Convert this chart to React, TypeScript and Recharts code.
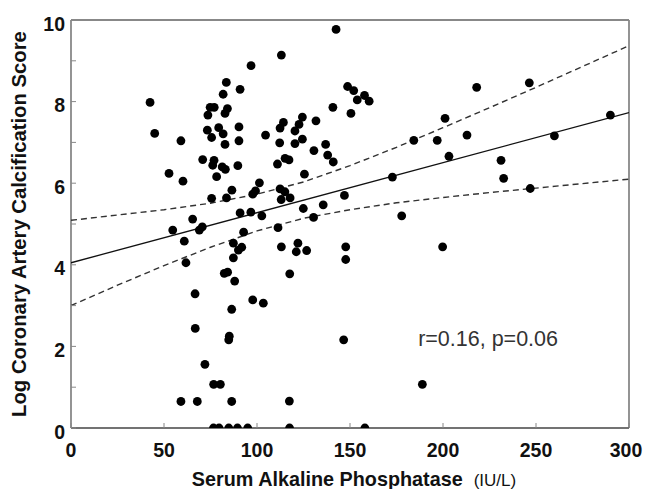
import React from 'react';
import { ScatterChart, Scatter, XAxis, YAxis, ReferenceLine, Label } from 'recharts';

// Serum alkaline phosphatase (IU/L)
const alpValues: number[] = [
  42.5, 45, 59.1, 52.7, 60.2, 65.4, 54.7, 60.9, 69, 70.6, 61.8, 66.7, 66.8, 59.1, 67.9,
  70.8, 72, 73.3, 73.6, 74.8, 77, 75.6, 76.9, 76.2, 78.3, 75.6, 76.7, 80.3, 76.6, 79.6,
  79.4, 81.8, 83.5, 84.1, 82.8, 81.8, 82.8, 81.3, 83, 83.6, 86.5, 82.4, 84.2, 84.8, 85.1,
  86.4, 86.4, 84.8, 87.3, 87.3, 88, 89.5, 90.9, 90.3, 90.3, 89.7, 90.9, 92.8, 91.8, 90,
  95, 96.8, 96.7, 97.7, 99.2, 101.3, 97.7,
  102.6, 103.4, 104.6, 113.1, 112.4, 114.2, 122.6, 124.4, 120.4, 112.2, 120.4, 124.4,
  115.1, 117.2, 111, 125.5, 112.4, 115, 117.8, 113, 124.9, 111.3, 113.1, 122, 121.1,
  126.7, 117.6, 117.4, 117.5,
  131.7, 130.6, 130.4, 135.6, 136.9, 138, 141, 140.8, 142.5, 148.7, 152, 157.8, 153.9,
  160.3, 150.5, 147, 147.7, 147.7, 146.6, 158,
  172.8, 177.8, 184.3, 188.9, 196.9, 199.8, 201.1, 203.2, 212.9, 218.1, 231.2, 232.6,
  246.4, 246.9, 259.9, 290,
];

// Log coronary artery calcification score
const cacValues: number[] = [
  7.98, 7.22, 7.04, 6.24, 6.05, 5.12, 4.85, 4.58, 4.85, 4.93, 4.05, 3.29, 2.44, 0.65, 0.65,
  6.58, 1.56, 7.3, 7.67, 7.86, 7.86, 7.12, 6.56, 6.44, 6.16, 5.63, 1.07, 1.07, 0, 0,
  7.36, 8.18, 8.47, 7.83, 7.71, 7.21, 6.95, 6.4, 6.34, 5.64, 5.83, 3.79, 3.82, 2.16, 2.25,
  2.91, 0.65, 0, 4.53, 4.17, 3.6, 0, 8.3, 7.38, 7.04, 6.43, 5.27, 4.8, 4.43, 4.36,
  0, 8.88, 5.29, 5.73, 5.81, 6.01, 3.14,
  5.2, 3.06, 7.18, 9.14, 7.35, 7.49, 7.44, 7.62, 7.28, 6.99, 6.97, 7.08,
  6.61, 6.57, 6.47, 6.22, 5.86, 5.79, 5.64, 5.6, 5.38, 4.91, 4.44, 4.53, 4.32,
  4.35, 3.78, 0.66, 0,
  7.53, 6.8, 5.16, 5.47, 6.95, 6.69, 6.52, 7.86, 9.77, 8.37, 8.27, 8.15, 8.04,
  8.01, 7.71, 5.7, 4.44, 4.13, 2.16, 0,
  6.15, 5.2, 7.05, 1.07, 7.05, 4.44, 7.59, 6.66, 7.18, 8.35, 6.56, 6.12,
  8.46, 5.87, 7.16, 7.67,
];

// Regression line end points
const fitX: number[] = [0, 300];
const fitY: number[] = [4.05, 7.73];

// Confidence band
const bandX: number[] = [0, 25, 50, 75, 100, 125, 150, 175, 200, 225, 250, 275, 300];
const bandUpper: number[] = [5.09, 5.22, 5.35, 5.51, 5.73, 6.03, 6.43, 6.88, 7.36, 7.85, 8.35, 8.86, 9.37];
const bandLower: number[] = [3.0, 3.5, 3.98, 4.43, 4.83, 5.14, 5.35, 5.52, 5.65, 5.77, 5.88, 5.99, 6.1];

const xTicks: number[] = [0, 50, 100, 150, 200, 250, 300];
const yTicks: number[] = [0, 1, 2, 3, 4, 5, 6, 7, 8, 9, 10];

const statText = 'r=0.16, p=0.06';

const points = alpValues.map((x, i) => ({ x, y: cacValues[i] }));
const fitData = fitX.map((x, i) => ({ x, y: fitY[i] }));
const upperData = bandX.map((x, i) => ({ x, y: bandUpper[i] }));
const lowerData = bandX.map((x, i) => ({ x, y: bandLower[i] }));

const FONT = '"Liberation Sans", Arial, sans-serif';

const Dot = (props: any) => {
  const { cx, cy } = props;
  if (cx == null || cy == null) return null;
  return <circle cx={cx} cy={cy} r={4.4} fill="#000" />;
};

const NoDot = () => null;

const YTick = (props: any) => {
  const { x, y, payload } = props;
  const axisX = x + 7;
  const v = payload.value;
  return (
    <g>
      <line x1={axisX} y1={y} x2={axisX + 5} y2={y} stroke="#888" strokeWidth={1} />
      {v % 2 === 0 ? (
        <text x={x + 1} y={y + 10.5} textAnchor="end" fontFamily={FONT} fontWeight="bold" fontSize={19.5} fill="#111">
          {v}
        </text>
      ) : null}
    </g>
  );
};

const XTick = (props: any) => {
  const { x, y, payload } = props;
  const shift = payload.value === 300 ? -3 : 0;
  return (
    <g>
      <line x1={x} y1={y} x2={x} y2={y - 5} stroke="#888" strokeWidth={1} />
      <text x={x + shift} y={y + 29} textAnchor="middle" fontFamily={FONT} fontWeight="bold" fontSize={19.5} fill="#111">
        {payload.value}
      </text>
    </g>
  );
};

const YTitle = (props: any) => {
  const vb = props.viewBox || {};
  const bx = (vb.x ?? 0) + 26;
  const cy = (vb.y ?? 0) + (vb.height ?? 0) / 2;
  return (
    <text
      x={bx}
      y={cy}
      transform={`rotate(-90, ${bx}, ${cy})`}
      textAnchor="middle"
      fontFamily={FONT}
      fontWeight="bold"
      fontSize={20.3}
      fill="#111"
    >
      Log Coronary Artery Calcification Score
    </text>
  );
};

const XTitle = (props: any) => {
  const vb = props.viewBox || {};
  const cx = (vb.x ?? 0) + (vb.width ?? 0) / 2 + 4;
  const by = (vb.y ?? 0) + 58;
  return (
    <text x={cx} y={by} textAnchor="middle" fontFamily={FONT} fill="#111">
      <tspan fontWeight="bold" fontSize={19.8}>Serum Alkaline Phosphatase</tspan>
      <tspan fontSize={17} dx={11}>(IU/L)</tspan>
    </text>
  );
};

const StatLabel = (props: any) => {
  const vb = props.viewBox || {};
  const ex = (vb.x ?? 0) + (vb.width ?? 0) - 71;
  const by = (vb.y ?? 0) + 8;
  return (
    <text x={ex} y={by} textAnchor="end" fontFamily={FONT} fontSize={21.5} fill="#333">
      {statText}
    </text>
  );
};

export default function App() {
  return (
    <div style={{ position: 'absolute', left: 0, top: 0, width: 645, height: 489, background: '#fff' }}>
      <ScatterChart width={645} height={489} margin={{ top: 20, right: 16, left: 0, bottom: 0 }}>
        <XAxis
          type="number"
          dataKey="x"
          domain={[0, 300]}
          ticks={xTicks}
          height={61}
          tickSize={0}
          tickMargin={0}
          tickLine={false}
          tick={<XTick />}
          axisLine={{ stroke: '#444', strokeWidth: 1.5 }}
          allowDataOverflow
        >
          <Label content={<XTitle />} />
        </XAxis>
        <YAxis
          type="number"
          dataKey="y"
          domain={[0, 10]}
          ticks={yTicks}
          interval={0}
          width={71}
          tickSize={0}
          tickMargin={7}
          tickLine={false}
          tick={<YTick />}
          axisLine={{ stroke: '#888', strokeWidth: 1.8 }}
          allowDataOverflow
        >
          <Label content={<YTitle />} />
        </YAxis>
        <ReferenceLine y={10} stroke="#888" strokeWidth={1.8} />
        <ReferenceLine x={300} stroke="#888" strokeWidth={1.8} />
        <Scatter
          data={upperData}
          line={{ stroke: '#333', strokeWidth: 1.4, strokeDasharray: '6 4' }}
          lineType="joint"
          shape={<NoDot />}
          isAnimationActive={false}
        />
        <Scatter
          data={lowerData}
          line={{ stroke: '#333', strokeWidth: 1.4, strokeDasharray: '6 4' }}
          lineType="joint"
          shape={<NoDot />}
          isAnimationActive={false}
        />
        <Scatter
          data={fitData}
          line={{ stroke: '#111', strokeWidth: 1.3 }}
          lineType="joint"
          shape={<NoDot />}
          isAnimationActive={false}
        />
        <Scatter data={points} shape={<Dot />} isAnimationActive={false} />
        <ReferenceLine y={2.2} stroke="none" label={<StatLabel />} ifOverflow="visible" />
      </ScatterChart>
    </div>
  );
}
